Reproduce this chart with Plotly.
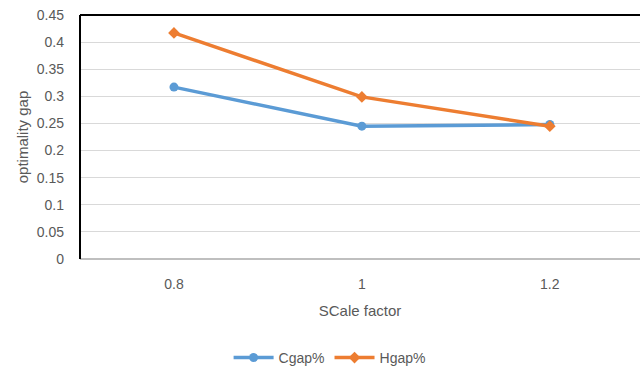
import plotly.graph_objects as go

# Scale factor categories and gap values per method
scale_factors = ["0.8", "1", "1.2"]
cgap = [0.317, 0.245, 0.248]
hgap = [0.417, 0.299, 0.245]
y_ticks = [0, 0.05, 0.1, 0.15, 0.2, 0.25, 0.3, 0.35, 0.4, 0.45]
y_tick_labels = ["0", "0.05", "0.1", "0.15", "0.2", "0.25", "0.3", "0.35", "0.4", "0.45"]

text_color = "#595959"
font_family = "Liberation Sans, Arial, sans-serif"

fig = go.Figure()
fig.add_trace(go.Scatter(
    x=scale_factors, y=cgap, name="Cgap%", mode="lines+markers",
    line=dict(color="#5B9BD5", width=3.5),
    marker=dict(symbol="circle", size=9, color="#5B9BD5"),
))
fig.add_trace(go.Scatter(
    x=scale_factors, y=hgap, name="Hgap%", mode="lines+markers",
    line=dict(color="#ED7D31", width=3.5),
    marker=dict(symbol="diamond", size=9, color="#ED7D31"),
))

fig.update_layout(
    width=640, height=369,
    margin=dict(l=80, r=0, t=15, b=110),
    paper_bgcolor="white", plot_bgcolor="white",
    font=dict(family=font_family, size=14, color=text_color),
    showlegend=True,
    legend=dict(orientation="h", xref="container", yref="container",
                x=0.515, y=0.03, xanchor="center", yanchor="middle",
                font=dict(size=14, color=text_color), itemwidth=40),
    xaxis=dict(
        type="category", range=[-0.5, 2.48],
        automargin=False,
        showgrid=False, zeroline=False,
        showline=False, ticks="",
        ticklabelstandoff=15,
        tickfont=dict(size=14, color=text_color),
        title=dict(text="SCale factor", font=dict(size=15, color=text_color), standoff=14),
    ),
    yaxis=dict(
        range=[0, 0.45], tickvals=y_ticks, ticktext=y_tick_labels,
        automargin=False,
        showgrid=True, gridcolor="#d9d9d9", gridwidth=1,
        zeroline=False, showline=False, ticks="",
        ticklabelstandoff=15,
        tickfont=dict(size=14, color=text_color),
        title=dict(text="optimality gap", font=dict(size=15, color=text_color), standoff=4),
    ),
    shapes=[
        # grey baseline along the category axis
        dict(type="line", xref="paper", yref="paper", x0=0, x1=1, y0=0, y1=0,
             line=dict(color="#bfbfbf", width=2), layer="below"),
        # black frame on the left and top edges
        dict(type="line", xref="paper", yref="paper", x0=0, x1=0, y0=0, y1=1,
             line=dict(color="black", width=2)),
        dict(type="line", xref="paper", yref="paper", x0=0, x1=1, y0=1, y1=1,
             line=dict(color="black", width=2)),
    ],
)

fig.write_html("out.html")
